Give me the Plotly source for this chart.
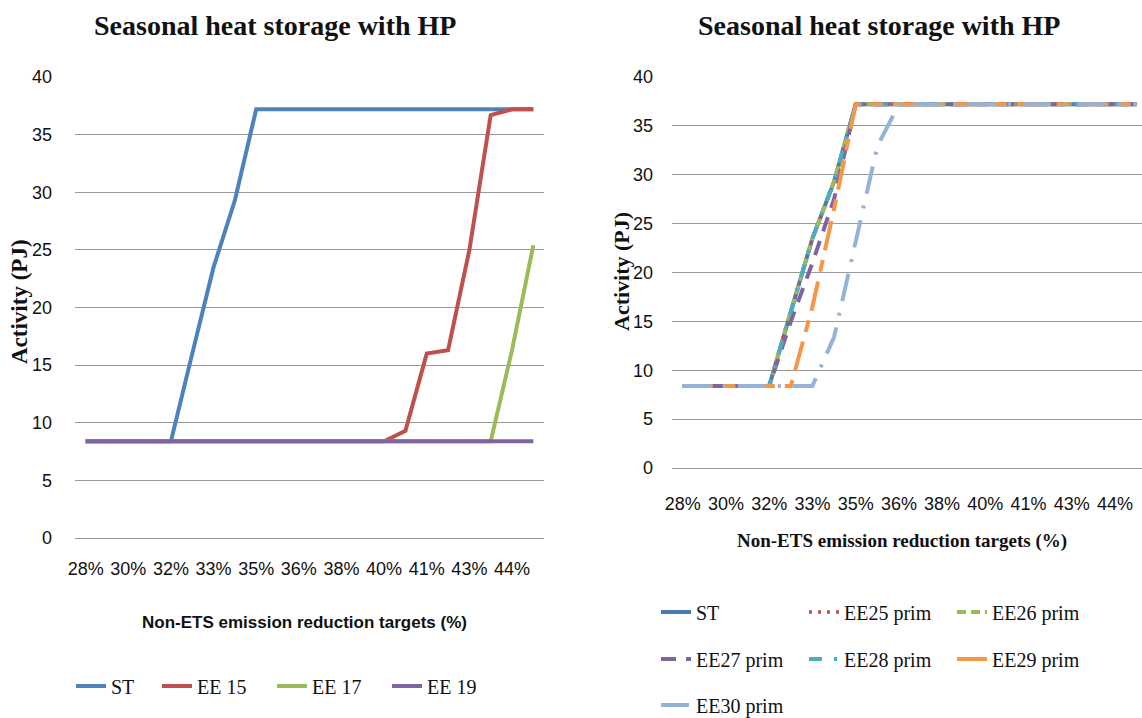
import plotly.graph_objects as go

W, H = 1142, 718

# ---------------- data ----------------
tick_labels = ["28%", "30%", "32%", "33%", "35%", "36%", "38%", "40%", "41%", "43%", "44%"]

left_st = [8.4, 8.4, 8.4, 8.4, 8.4, 16.0, 23.5, 29.3, 37.2, 37.2, 37.2,
           37.2, 37.2, 37.2, 37.2, 37.2, 37.2, 37.2, 37.2, 37.2, 37.2, 37.2]
left_ee15 = [8.4, 8.4, 8.4, 8.4, 8.4, 8.4, 8.4, 8.4, 8.4, 8.4, 8.4,
             8.4, 8.4, 8.4, 8.4, 9.3, 16.0, 16.3, 25.0, 36.7, 37.2, 37.2]
left_ee17 = [8.4, 8.4, 8.4, 8.4, 8.4, 8.4, 8.4, 8.4, 8.4, 8.4, 8.4,
             8.4, 8.4, 8.4, 8.4, 8.4, 8.4, 8.4, 8.4, 8.4, 16.3, 25.4]
left_ee19 = [8.4, 8.4, 8.4, 8.4, 8.4, 8.4, 8.4, 8.4, 8.4, 8.4, 8.4,
             8.4, 8.4, 8.4, 8.4, 8.4, 8.4, 8.4, 8.4, 8.4, 8.4, 8.4]

right_st = [8.4, 8.4, 8.4, 8.4, 8.4, 16.0, 23.5, 29.3, 37.2, 37.2, 37.2,
            37.2, 37.2, 37.2, 37.2, 37.2, 37.2, 37.2, 37.2, 37.2, 37.2, 37.2]
right_ee25 = [8.4, 8.4, 8.4, 8.4, 8.4, 16.0, 23.5, 29.3, 37.2, 37.2, 37.2,
              37.2, 37.2, 37.2, 37.2, 37.2, 37.2, 37.2, 37.2, 37.2, 37.2, 37.2]
right_ee26 = [8.4, 8.4, 8.4, 8.4, 8.4, 16.0, 23.5, 29.3, 37.2, 37.2, 37.2,
              37.2, 37.2, 37.2, 37.2, 37.2, 37.2, 37.2, 37.2, 37.2, 37.2, 37.2]
right_ee27 = [8.4, 8.4, 8.4, 8.4, 8.4, 15.0, 21.0, 27.5, 37.2, 37.2, 37.2,
              37.2, 37.2, 37.2, 37.2, 37.2, 37.2, 37.2, 37.2, 37.2, 37.2, 37.2]
right_ee28 = [8.4, 8.4, 8.4, 8.4, 8.4, 16.0, 23.5, 29.3, 37.2, 37.2, 37.2,
              37.2, 37.2, 37.2, 37.2, 37.2, 37.2, 37.2, 37.2, 37.2, 37.2, 37.2]
right_ee29 = [8.4, 8.4, 8.4, 8.4, 8.4, 8.4, 16.5, 26.5, 37.2, 37.2, 37.2,
              37.2, 37.2, 37.2, 37.2, 37.2, 37.2, 37.2, 37.2, 37.2, 37.2, 37.2]
right_ee30 = [8.4, 8.4, 8.4, 8.4, 8.4, 8.4, 8.4, 13.4, 23.0, 32.9, 37.2,
              37.2, 37.2, 37.2, 37.2, 37.2, 37.2, 37.2, 37.2, 37.2, 37.2, 37.2]

left_names = ["ST", "EE 15", "EE 17", "EE 19"]
right_names = ["ST", "EE25 prim", "EE26 prim", "EE27 prim", "EE28 prim", "EE29 prim", "EE30 prim"]

# ---------------- styling ----------------
SERIF = "Liberation Serif, Times New Roman, serif"
SANS = "Liberation Sans Narrow, Liberation Sans, Arial, sans-serif"
GRID = "#9a9a9a"
TXT = "#111111"


def px_x(x):
    return x / W


def px_y(y):
    return 1 - y / H


x_idx = list(range(len(left_st)))
tick_pos = x_idx[::2]

fig = go.Figure()

left_series = [left_st, left_ee15, left_ee17, left_ee19]
left_colors = ["#4F81BD", "#C0504D", "#9BBB59", "#8064A2"]
left_legends = ["legend", "legend2", "legend2", "legend2"]
for name, ys, col, lg in zip(left_names, left_series, left_colors, left_legends):
    fig.add_trace(go.Scatter(x=x_idx, y=ys, name=name, mode="lines",
                             line=dict(color=col, width=4),
                             xaxis="x", yaxis="y", legend=lg))

right_series = [right_st, right_ee25, right_ee26, right_ee27, right_ee28, right_ee29, right_ee30]
right_colors = ["#4A7AB5", "#C0504D", "#9BBB59", "#8064A2", "#4BACC6", "#F79646", "#95B3D7"]
right_dash = ["solid", "3px,6px", "9px,5px", "15px,10px", "13px,12px,3px,12px",
              "30px,10px,12px,10px", "28px,12px,3px,12px"]
right_width = [4, 3.5, 4, 4, 4, 4, 4]
right_legends = ["legend3", "legend3", "legend3", "legend4", "legend4", "legend4", "legend5"]
for name, ys, col, d, w, lg in zip(right_names, right_series, right_colors, right_dash,
                                    right_width, right_legends):
    fig.add_trace(go.Scatter(x=x_idx, y=ys, name=name, mode="lines",
                             line=dict(color=col, width=w, dash=d),
                             xaxis="x2", yaxis="y2", legend=lg))

axis_common = dict(showline=False, ticks="", tickfont=dict(family=SANS, size=18, color=TXT),
                   automargin=False)
xcommon = dict(axis_common, tickmode="array", tickvals=tick_pos, ticktext=tick_labels,
               tickangle=0, showgrid=False, zeroline=False, ticklabelstandoff=18)
ycommon = dict(axis_common, range=[0, 40], dtick=5, tick0=0, showgrid=True, gridcolor=GRID,
               gridwidth=1.3, zeroline=True, zerolinecolor=GRID, zerolinewidth=1.3,
               ticklabelstandoff=22)

leg_font = dict(family=SERIF, size=20, color=TXT)
leg_common = dict(orientation="h", xanchor="left", yanchor="middle", font=leg_font,
                  bgcolor="rgba(0,0,0,0)", borderwidth=0, itemclick=False)

fig.update_layout(
    width=W, height=H,
    margin=dict(l=0, r=0, t=0, b=0, autoexpand=False),
    paper_bgcolor="white", plot_bgcolor="white",
    xaxis=dict(xcommon, domain=[px_x(75), px_x(544)], range=[-0.5, 21.5], anchor="y"),
    yaxis=dict(ycommon, domain=[px_y(538), px_y(77)], anchor="x"),
    xaxis2=dict(xcommon, domain=[px_x(672), 1.0], range=[-0.5, 21.25], anchor="y2",
                ticklabelstandoff=23),
    yaxis2=dict(ycommon, domain=[px_y(468), px_y(77)], anchor="x2", ticklabelstandoff=18),
    legend=dict(leg_common, x=px_x(71), y=px_y(686)),
    legend2=dict(leg_common, x=px_x(157), y=px_y(686), entrywidth=70),
    legend3=dict(leg_common, x=px_x(656), y=px_y(612), entrywidth=103),
    legend4=dict(leg_common, x=px_x(656), y=px_y(659), entrywidth=103),
    legend5=dict(leg_common, x=px_x(656), y=px_y(705), entrywidth=103),
    showlegend=True,
)

title_font = dict(family=SERIF, size=28, color=TXT)
annos = [
    dict(text="<b>Seasonal heat storage with HP</b>", x=px_x(275), y=px_y(25), font=title_font),
    dict(text="<b>Seasonal heat storage with HP</b>", x=px_x(879), y=px_y(25), font=title_font),
    dict(text="<b>Activity (PJ)</b>", x=px_x(19), y=px_y(302), textangle=-90,
         font=dict(family=SERIF, size=23, color=TXT)),
    dict(text="<b>Activity (PJ)</b>", x=px_x(621), y=px_y(272), textangle=-90,
         font=dict(family=SERIF, size=22, color=TXT)),
    dict(text="<b>Non-ETS emission reduction targets (%)</b>", x=px_x(304), y=px_y(622),
         font=dict(family=SANS, size=17, color=TXT)),
    dict(text="<b>Non-ETS emission reduction targets (%)</b>", x=px_x(902), y=px_y(541),
         font=dict(family=SERIF, size=19, color=TXT)),
]
for a in annos:
    fig.add_annotation(xref="paper", yref="paper", showarrow=False,
                       xanchor="center", yanchor="middle", **a)

fig.write_html("out.html")
